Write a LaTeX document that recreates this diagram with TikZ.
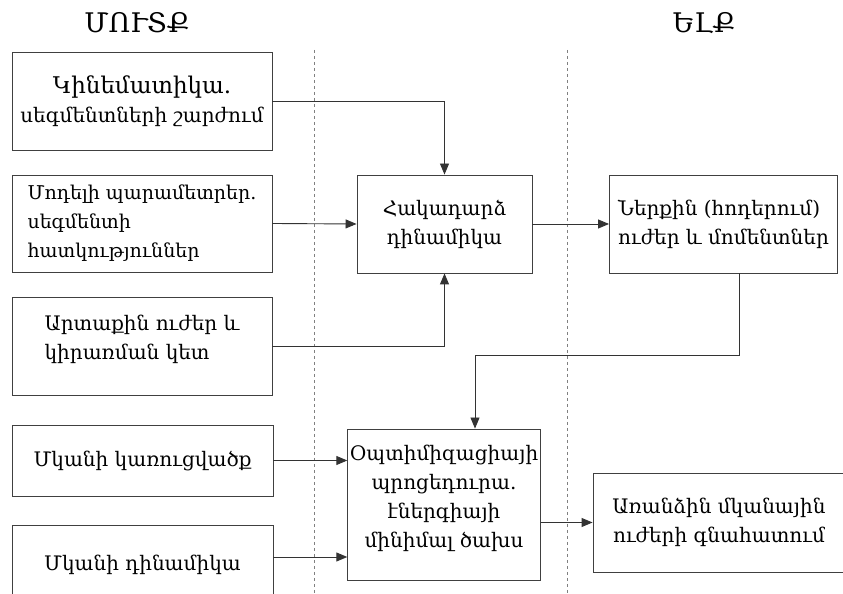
\documentclass[tikz,border=0pt]{standalone}
\usepackage{fontspec}
\setmainfont{DejaVu Serif}
\usetikzlibrary{arrows.meta}
\begin{document}
\begin{tikzpicture}[x=1pt, y=1pt,
            block/.style={draw=black!75, line width=0.9pt, fill=white, inner sep=2pt, font=\fontsize{20}{29}\selectfont},
            head/.style={font=\fontsize{27}{30}\selectfont},
            link/.style={draw=black!80, line width=0.9pt, -{Triangle[length=11pt, width=9pt]}},
            sep/.style={draw=black!50, dashed, line width=0.6pt}
            ]
            \useasboundingbox (0,0) rectangle (843,594);
            \draw[sep] (314,544) -- (314,0);
            \draw[sep] (567,544) -- (567,0);
            \node[head] (inp) at (137,571) {ՄՈՒՏՔ};
            \node[head] (out) at (704,571) {ԵԼՔ};

            \node[block, minimum width=260, minimum height=98, align=center] (kin) at (142,493) {{\fontsize{23}{29}\selectfont Կինեմատիկա.}\\սեգմենտների շարժում};
            \node[block, minimum width=260, minimum height=97, align=left, font=\fontsize{19}{29}\selectfont] (mod) at (142,370.5) {Մոդելի պարամետրեր.\\ սեգմենտի\\ հատկություններ};
            \node[block, minimum width=260, minimum height=98, align=left] (art) at (142,248) {Արտաքին ուժեր և\\կիրառման կետ\\[-12pt]};
            \node[block, minimum width=261, minimum height=71] (mkk) at (142.5,133.5) {Մկանի կառուցվածք};
            \node[block, minimum width=261, minimum height=80] (mkd) at (142.5,29) {Մկանի դինամիկա\\[0pt]};

            \node[block, minimum width=175, minimum height=98, align=center] (hak) at (444.5,370) {Հակադարձ\\դինամիկա};
            \node[block, minimum width=228, minimum height=98, align=left] (ner) at (723.5,370) {Ներքին (հոդերում)\\ուժեր և մոմենտներ};
            \node[block, minimum width=192, minimum height=151, align=center] (opt) at (444,89.5) {Օպտիմիզացիայի\\պրոցեդուրա.\\էներգիայի\\մինիմալ ծախս\\[-12pt]};
            \node[block, minimum width=252, minimum height=99, align=center] (arr) at (719,71.5) {Առանձին մկանային\\ուժերի գնահատում};

            \draw[link] (kin.east) -| (hak.north);
            \draw[link] (mod.east) -- (hak.west);
            \draw[link] (art.east) -| (hak.south);
            \draw[link] (hak.east) -- (ner.west);
            \draw[link] ([xshift=16pt]ner.south) -- ++(0,-82) -| ([xshift=31pt]opt.north);
            \draw[link] (mkk.east) -- (mkk.east -| opt.west);
            \draw[link] ([yshift=8pt]mkd.east) -- ([yshift=8pt]mkd.east -| opt.west);
            \draw[link] (opt.east |- arr.west) -- (arr.west);
\end{tikzpicture}
\end{document}
